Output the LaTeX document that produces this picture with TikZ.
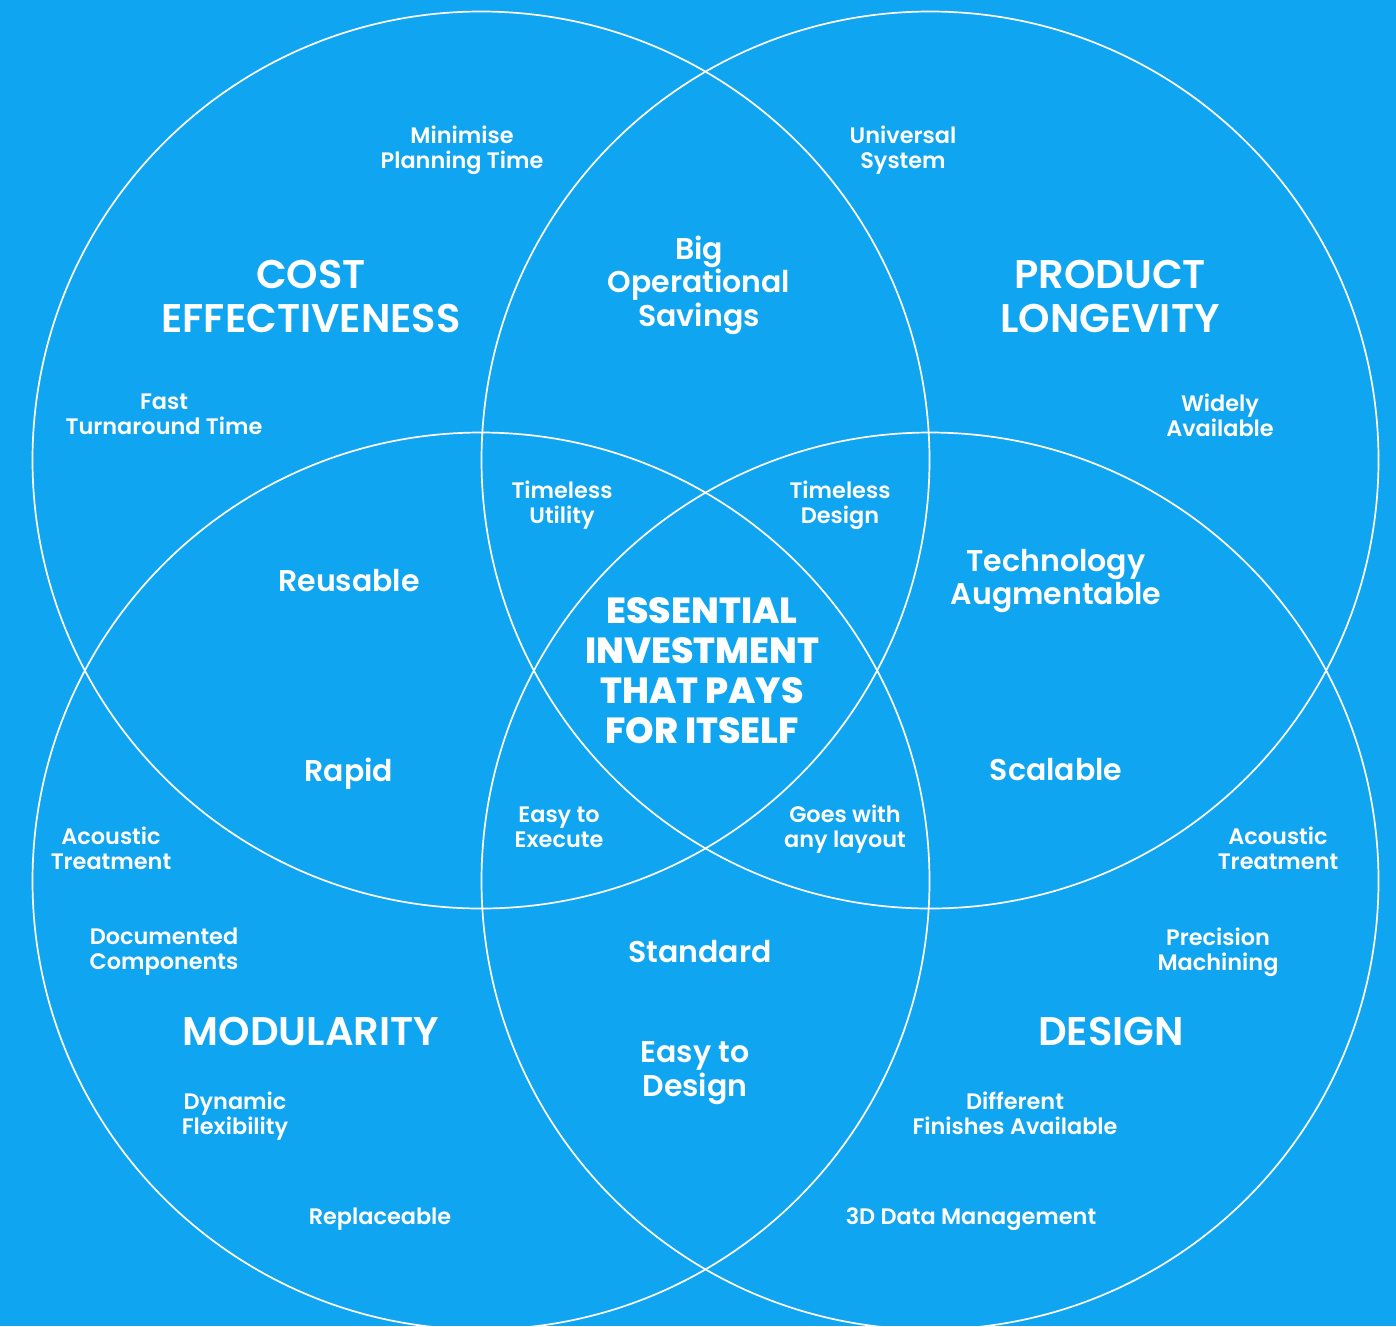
\documentclass[tikz,border=0pt]{standalone}
\usepackage{fontspec}
\setmainfont{Poppins}[UprightFont=* SemiBold, BoldFont=* ExtraBold]
\definecolor{bgblue}{RGB}{16,165,240}
\begin{document}
\begin{tikzpicture}[x=1pt,y=-1pt,
  ring/.style={draw=white,line width=1.7pt},
  small/.style={text=white,align=center,font=\fontsize{22.4}{25}\selectfont,inner sep=0pt},
  medium/.style={text=white,align=center,font=\fontsize{30}{33.5}\selectfont,inner sep=0pt},
  big/.style={text=white,align=center,font=\fontsize{40}{44}\selectfont,inner sep=0pt},
  core/.style={text=white,align=center,font=\bfseries\fontsize{36.3}{40}\selectfont,inner sep=0pt}]
\fill[bgblue] (0,0) rectangle (1396,1326);
\useasboundingbox (0,0) rectangle (1396,1326);
\draw[ring] (481,460) circle (448.5);
\draw[ring] (930,460) circle (448.5);
\draw[ring] (481,881) circle (448.5);
\draw[ring] (930,881) circle (448.5);
% headings
\node[big] (cost) at (311,296) {COST\\EFFECTIVENESS};
\node[big] (prod) at (1110,296) {PRODUCT\\LONGEVITY};
\node[big] (mod) at (311,1031) {MODULARITY};
\node[big] (des) at (1111,1031) {DESIGN};
\node[core] (center) at (702,671) {ESSENTIAL\\INVESTMENT\\THAT PAYS\\FOR ITSELF};
% medium
\node[medium] (big) at (699,285) {Big\\Operational\\Savings};
\node[medium] (reus) at (349,581) {Reusable};
\node[medium] (tech) at (1056,581) {Technology\\Augmentable};
\node[medium] (rapid) at (349,774) {Rapid};
\node[medium] (scal) at (1056,770) {Scalable};
\node[medium] (std) at (700,952) {Standard};
\node[medium] (easyd) at (695,1073) {Easy to\\Design};
% small
\node[small] (minim) at (462,150) {Minimise\\Planning Time};
\node[small] (univ) at (903,150) {Universal\\System};
\node[small] (fast) at (164,414) {Fast\\Turnaround Time};
\node[small] (wide) at (1220,415) {Widely\\Available};
\node[small] (tutil) at (562,505) {Timeless\\Utility};
\node[small] (tdes) at (840,505) {Timeless\\Design};
\node[small] (easye) at (559,827) {Easy to\\Execute};
\node[small] (goes) at (845,829) {Goes with\\any layout};
\node[small] (acl) at (111,848) {Acoustic\\Treatment};
\node[small] (acr) at (1278,848) {Acoustic\\Treatment};
\node[small] (doc) at (164,952) {Documented\\Components};
\node[small] (prec) at (1218,952) {Precision\\Machining};
\node[small] (dyn) at (235,1116) {Dynamic\\Flexibility};
\node[small] (diff) at (1015,1113) {Different\\Finishes Available};
\node[small] (repl) at (380,1219) {Replaceable};
\node[small] (data) at (971,1219) {3D Data Management};
\end{tikzpicture}
\end{document}
